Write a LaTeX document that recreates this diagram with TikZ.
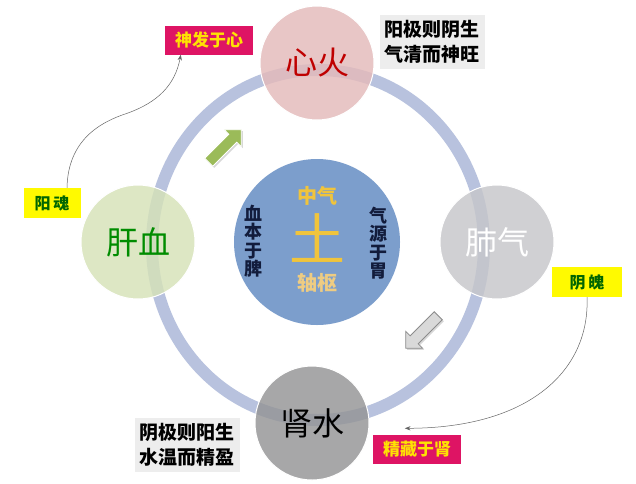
\documentclass[tikz,border=0pt]{standalone}
\usepackage{fontspec}
\setmainfont{Noto Sans CJK SC}
\usepackage{xcolor}
\usetikzlibrary{arrows.meta,shapes.arrows,shadows}
\definecolor{ringblue}{RGB}{184,194,222}
\definecolor{firered}{RGB}{228,186,186}
\definecolor{woodgreen}{RGB}{214,226,184}
\definecolor{metalgray}{RGB}{198,198,202}
\definecolor{watergray}{RGB}{148,148,150}
\definecolor{earthblue}{RGB}{124,158,204}
\definecolor{gold}{RGB}{240,196,60}
\definecolor{tan}{RGB}{238,204,130}
\definecolor{tagred}{RGB}{222,20,100}
\definecolor{tagyellow}{RGB}{255,250,0}
\definecolor{navy}{RGB}{18,28,60}
\definecolor{leafgreen}{RGB}{155,187,89}
\tikzset{
  organ/.style={circle,minimum size=114pt,inner sep=0pt,draw=white,line width=1pt,fill opacity=0.82,text opacity=1,font=\fontsize{32}{32}\selectfont},
  redtag/.style={fill=tagred,text=yellow!85!orange,font=\bfseries\fontsize{17}{17}\selectfont,inner sep=4pt,minimum height=29pt,minimum width=88pt},
  yellowtag/.style={fill=tagyellow,text=green!40!black,font=\bfseries\fontsize{16}{16}\selectfont,inner xsep=5pt,minimum height=30pt},
  note/.style={fill=black!7,align=left,font=\bfseries\fontsize{19}{25}\selectfont,inner sep=5pt},
  side/.style={text=navy,align=center,font=\bfseries\fontsize{18}{18.5}\selectfont},
  bigarrow/.style={single arrow,minimum height=46pt,minimum width=24pt,inner sep=5pt,single arrow head extend=6pt,line width=0.8pt,drop shadow={opacity=0.3,shadow xshift=1.5pt,shadow yshift=-1.5pt}},
  thinarrow/.style={-{Stealth[length=2mm]},draw=black!60,line width=0.5pt}
}
\begin{document}
\begin{tikzpicture}[x=1pt,y=-1pt]
    \useasboundingbox[fill=white] (0,0) rectangle (636,483);
    \draw[ringblue,line width=12pt] (318,245) ellipse [x radius=166pt,y radius=175pt];
    \node[organ,fill=firered,text=red!75!black] (xin) at (317,63) {心火};
    \node[organ,fill=woodgreen,text=green!55!black] (gan) at (138,242) {肝血};
    \node[organ,fill=metalgray,text=white] (fei) at (497,242) {肺气};
    \node[organ,fill=watergray,text=black] (shen) at (312,423) {肾水};
    \node[circle,minimum size=166pt,fill=earthblue] (tu) at (317,242) {};
    \node[text=gold,font=\fontsize{56}{56}\selectfont] (tuzi) at (317,238) {土};
    \node[text=gold,font=\bfseries\fontsize{20}{20}\selectfont] (zhongqi) at (317,196) {中气};
    \node[text=tan,font=\bfseries\fontsize{20}{20}\selectfont] (zhoushu) at (317,283) {轴枢};
    \node[side] (xueben) at (253,241) {血\\本\\于\\脾};
    \node[side] (qiyuan) at (378,243) {气\\源\\于\\胃};
    \node[redtag] (shenfa) at (209,40) {神发于心};
    \node[note] (yangji) at (432,42) {阳极则阴生\\气清而神旺};
    \node[yellowtag,minimum width=57pt] (hun) at (52,203) {阳\,魂};
    \node[yellowtag,minimum width=70pt] (po) at (587,282) {阴\,魄};
    \node[note] (yinji) at (187,445) {阴极则阳生\\水温而精盈};
    \node[redtag] (jing) at (417,449) {精藏于肾};
    \node[bigarrow,fill=leafgreen,draw=white,rotate=45] (up) at (223,148) {};
    \node[bigarrow,fill=black!15,draw=black!45,rotate=225] (down) at (424,330) {};
    \draw[thinarrow] ([xshift=15pt]hun.north) .. controls (68,140) and (100,122) .. (128,113)
      .. controls (158,102) and (175,85) .. ([xshift=16pt]shenfa.south west);
    \draw[thinarrow] (po.south) .. controls (590,370) and (530,428) .. ([xshift=32pt,yshift=6pt]jing.north west);
  \end{tikzpicture}
\end{document}
